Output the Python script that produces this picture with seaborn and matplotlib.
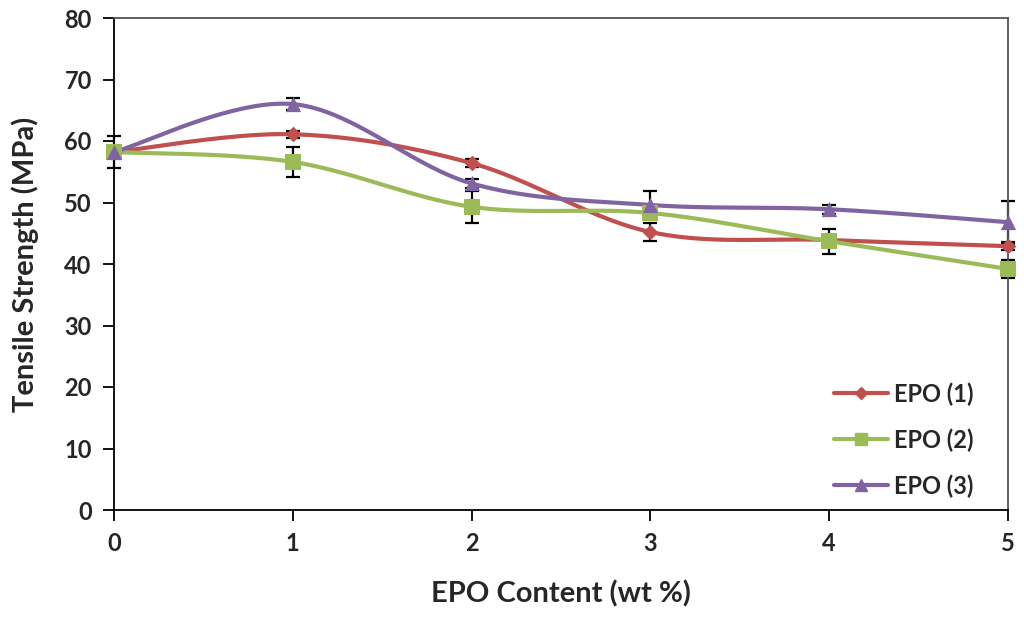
import numpy as np
import pandas as pd
import matplotlib
matplotlib.use("Agg")
import matplotlib.pyplot as plt
import seaborn as sns

# ---- data ----
epo_content = [0, 1, 2, 3, 4, 5]
epo1 = [58.2, 61.1, 56.4, 45.2, 43.9, 42.9]
epo1_err = [0.5, 0.6, 0.6, 1.5, 0.5, 0.6]
epo2 = [58.2, 56.6, 49.3, 48.3, 43.7, 39.2]
epo2_err = [2.6, 2.5, 2.6, 0.8, 2.0, 1.5]
epo3 = [58.2, 66.0, 53.1, 49.6, 48.9, 46.8]
epo3_err = [1.0, 1.0, 0.8, 2.3, 0.7, 3.5]
series_names = ["EPO (1)", "EPO (2)", "EPO (3)"]
x_ticks = [0, 1, 2, 3, 4, 5]
y_ticks = [0, 10, 20, 30, 40, 50, 60, 70, 80]

colors = ["#C0504D", "#9BBB59", "#8064A2"]
markers = ["D", "s", "^"]
msizes = [8, 11, 11]

sns.set_theme(style="white")
plt.rcParams["font.family"] = ["Lato", "DejaVu Sans"]
plt.rcParams["font.weight"] = "bold"


def smooth(xs, ys, n=40):
    # Excel-like Catmull-Rom Bezier smoothing of the line through the points
    xs = np.asarray(xs, float); ys = np.asarray(ys, float)
    px = np.concatenate([[xs[0]], xs, [xs[-1]]])
    py = np.concatenate([[ys[0]], ys, [ys[-1]]])
    outx, outy = [], []
    t = np.linspace(0, 1, n)
    for i in range(1, len(px) - 2):
        p0 = np.array([px[i], py[i]]); p3 = np.array([px[i + 1], py[i + 1]])
        c1 = p0 + (np.array([px[i + 1], py[i + 1]]) - np.array([px[i - 1], py[i - 1]])) / 6
        c2 = p3 - (np.array([px[i + 2], py[i + 2]]) - np.array([px[i], py[i]])) / 6
        b = ((1 - t) ** 3)[:, None] * p0 + (3 * (1 - t) ** 2 * t)[:, None] * c1 \
            + (3 * (1 - t) * t ** 2)[:, None] * c2 + (t ** 3)[:, None] * p3
        outx.extend(b[:, 0]); outy.extend(b[:, 1])
    return np.array(outx), np.array(outy)


fig = plt.figure(figsize=(10.24, 6.25), dpi=100)
ax = fig.add_axes([114 / 1024, 1 - 510 / 625, (1008 - 114) / 1024, (510 - 18) / 625])

all_vals = [epo1, epo2, epo3]
all_errs = [epo1_err, epo2_err, epo3_err]

for vals, errs in zip(all_vals, all_errs):
    eb = ax.errorbar(epo_content, vals, yerr=errs, fmt="none", ecolor="black",
                     elinewidth=1.6, capsize=5, capthick=1.6, zorder=2)
    for art in eb.lines[1] + eb.lines[2]:
        art.set_clip_on(False)

for vals, name, c, m, ms in zip(all_vals, series_names, colors, markers, msizes):
    sx, sy = smooth(epo_content, vals)
    ax.plot(sx, sy, color=c, lw=3, zorder=3, solid_capstyle="round")
    df = pd.DataFrame({"x": epo_content, "y": vals})
    n_before = len(ax.collections)
    sns.scatterplot(data=df, x="x", y="y", ax=ax, marker=m, s=ms ** 2, color=c,
                    edgecolor=c, linewidth=0, zorder=4, legend=False)
    for col in ax.collections[n_before:]:
        col.set_clip_on(False)
    ax.plot([], [], color=c, lw=3, marker=m, markersize=ms * 0.8, label=name)

ax.set_xlim(0, 5)
ax.set_ylim(0, 80)
ax.set_xticks(x_ticks)
ax.set_yticks(y_ticks)
ax.set_xticklabels([str(v) for v in x_ticks], fontsize=17, fontweight="bold")
ax.set_yticklabels([str(v) for v in y_ticks], fontsize=17, fontweight="bold")
ax.tick_params(axis="both", direction="out", length=8, width=1.3, color="black",
               bottom=True, left=True, pad=8)
for s in ["left", "bottom"]:
    ax.spines[s].set_color("black"); ax.spines[s].set_linewidth(1.3)
for s in ["top", "right"]:
    ax.spines[s].set_color("#555555"); ax.spines[s].set_linewidth(1.3)
ax.set_xlabel("EPO Content (wt %)", fontsize=21, fontweight="bold", labelpad=18)
ax.set_ylabel("Tensile Strength (MPa)", fontsize=21, fontweight="bold", labelpad=18)
ax.grid(False)

leg = ax.legend(loc="lower right", frameon=False, fontsize=17, handlelength=2.3,
                labelspacing=0.95, handletextpad=0.25, bbox_to_anchor=(0.985, -0.018))
for t in leg.get_texts():
    t.set_fontweight("bold")

fig.savefig("out.png", dpi=100)
